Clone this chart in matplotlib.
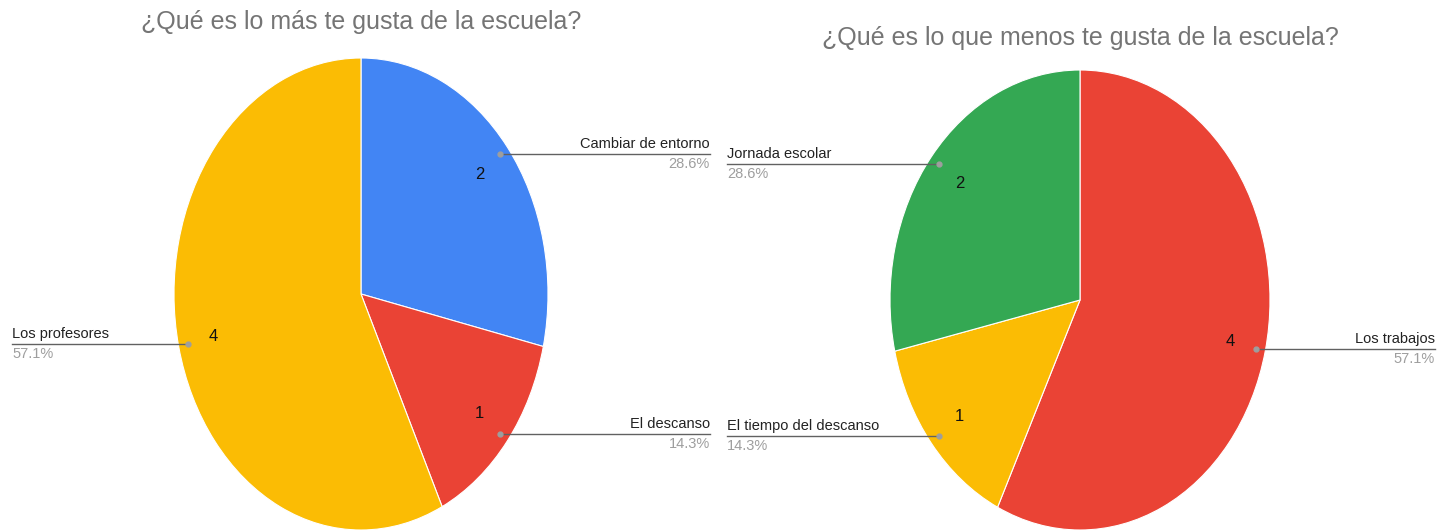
import numpy as np
import matplotlib.pyplot as plt

plt.rcParams['font.family'] = ['Liberation Sans', 'DejaVu Sans']

# datos
titulo_izq = "¿Qué es lo más te gusta de la escuela?"
etiquetas_izq = ["Cambiar de entorno", "El descanso", "Los profesores"]
valores_izq = [2, 1, 4]
colores_izq = ["#4285F4", "#EA4335", "#FBBC04"]

titulo_der = "¿Qué es lo que menos te gusta de la escuela?"
etiquetas_der = ["Los trabajos", "El tiempo del descanso", "Jornada escolar"]
valores_der = [4, 1, 2]
colores_der = ["#EA4335", "#FBBC04", "#34A853"]

W, H = 1450, 531
fig = plt.figure(figsize=(W / 100, H / 100), dpi=100)

# capa en pixeles para titulos y etiquetas
capa = fig.add_axes([0, 0, 1, 1], zorder=5)
capa.set_xlim(0, W)
capa.set_ylim(H, 0)
capa.axis("off")
capa.patch.set_alpha(0)


def px_axes(x0, y0, x1, y1):
    return fig.add_axes([x0 / W, 1 - y1 / H, (x1 - x0) / W, (y1 - y0) / H])


def dibujar(caja, valores, colores):
    ax = px_axes(*caja)
    total = sum(valores)
    wedges, _, autotexts = ax.pie(valores, colors=colores, startangle=90, counterclock=False,
                                  autopct=lambda p: f"{round(p * total / 100)}", pctdistance=0.81,
                                  wedgeprops=dict(edgecolor="white", linewidth=0.8),
                                  textprops=dict(fontsize=12, color="#111111"))
    ax.set_aspect("auto")
    ax.set_xlim(-1, 1)
    ax.set_ylim(-1, 1)
    ax.axis("off")
    puntos = []
    for w in wedges:
        ang = np.deg2rad((w.theta1 + w.theta2) / 2)
        d = ax.transData.transform((0.95 * np.cos(ang), 0.95 * np.sin(ang)))
        puntos.append(capa.transData.inverted().transform(d))
    return ax, puntos


def etiqueta(punto, x_fin, texto, valor, total, lado):
    px, py = punto
    capa.plot([px, x_fin], [py, py], color="#616161", lw=1)
    capa.plot(px, py, "o", color="#9E9E9E", ms=3.5)
    ha = "right" if lado == "der" else "left"
    capa.text(x_fin, py - 3, texto, ha=ha, va="bottom", fontsize=10.5, color="#222222")
    capa.text(x_fin, py + 3, f"{100 * valor / total:.1f}%", ha=ha, va="top",
              fontsize=10.5, color="#9E9E9E")


fig.canvas.draw()
ax1, pts1 = dibujar((174, 58, 548, 530), valores_izq, colores_izq)
ax2, pts2 = dibujar((890, 70, 1270, 530), valores_der, colores_der)

capa.text(361, 22, titulo_izq, ha="center", va="center", fontsize=18, color="#757575")
capa.text(1080, 38, titulo_der, ha="center", va="center", fontsize=18, color="#757575")

t1 = sum(valores_izq)
etiqueta(pts1[0], 710, etiquetas_izq[0], valores_izq[0], t1, "der")
etiqueta(pts1[1], 710, etiquetas_izq[1], valores_izq[1], t1, "der")
etiqueta(pts1[2], 12, etiquetas_izq[2], valores_izq[2], t1, "izq")

t2 = sum(valores_der)
etiqueta(pts2[0], 1435, etiquetas_der[0], valores_der[0], t2, "der")
etiqueta(pts2[1], 727, etiquetas_der[1], valores_der[1], t2, "izq")
etiqueta(pts2[2], 727, etiquetas_der[2], valores_der[2], t2, "izq")

fig.savefig("out.png", dpi=100)
